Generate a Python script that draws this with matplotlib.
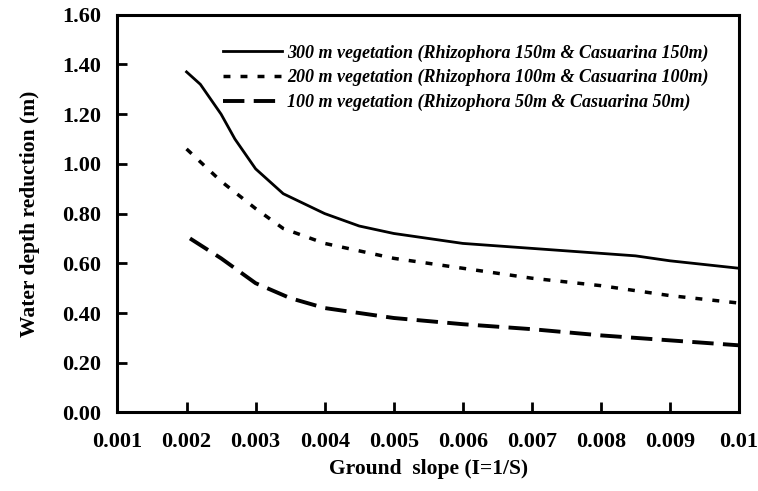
import matplotlib
matplotlib.use('Agg')
import matplotlib.pyplot as plt

plt.rcParams['font.family'] = ['Liberation Serif', 'DejaVu Serif']
plt.rcParams['font.weight'] = 'bold'

slope_300 = [0.002, 0.0022, 0.0025, 0.0027, 0.003, 0.0034, 0.004, 0.0045, 0.005, 0.0055,
             0.006, 0.007, 0.008, 0.0085, 0.009, 0.01]
depth_300 = [1.37, 1.32, 1.20, 1.10, 0.98, 0.88, 0.80, 0.75, 0.72, 0.70,
             0.68, 0.66, 0.64, 0.63, 0.61, 0.58]

slope_200 = [0.002, 0.0025, 0.003, 0.0034, 0.004, 0.005, 0.006, 0.007, 0.008, 0.009, 0.01]
depth_200 = [1.06, 0.93, 0.82, 0.74, 0.68, 0.62, 0.58, 0.54, 0.51, 0.47, 0.44]

slope_100 = [0.00205, 0.0025, 0.003, 0.0035, 0.004, 0.0045, 0.005, 0.006, 0.007, 0.008, 0.009, 0.01]
depth_100 = [0.70, 0.62, 0.52, 0.46, 0.42, 0.40, 0.38, 0.355, 0.335, 0.31, 0.29, 0.27]

labels = ['300 m vegetation (Rhizophora 150m & Casuarina 150m)',
          '200 m vegetation (Rhizophora 100m & Casuarina 100m)',
          '100 m vegetation (Rhizophora 50m & Casuarina 50m)']

x_ticks = [0.001, 0.002, 0.003, 0.004, 0.005, 0.006, 0.007, 0.008, 0.009, 0.01]
x_tick_labels = ['0.001', '0.002', '0.003', '0.004', '0.005', '0.006', '0.007', '0.008', '0.009', '0.01']
y_ticks = [0.0, 0.2, 0.4, 0.6, 0.8, 1.0, 1.2, 1.4, 1.6]

fig, ax = plt.subplots(figsize=(7.58, 4.91), dpi=100)
fig.subplots_adjust(left=0.155, right=0.975, top=0.97, bottom=0.16)

ax.plot(slope_300, depth_300, color='black', lw=2, ls='-', label=labels[0])
ax.plot(slope_200, depth_200, color='black', lw=2.5, ls=(0, (2.0, 2.9)), label=labels[1])
ax.plot(slope_100, depth_100, color='black', lw=2.8, ls=(0, (5.5, 2.4)), label=labels[2])

ax.set_xlim(0.001, 0.01)
ax.set_ylim(0, 1.6)
ax.set_xticks(x_ticks)
ax.set_xticklabels(x_tick_labels)
ax.set_yticks(y_ticks)
ax.set_yticklabels([f'{v:.2f}' for v in y_ticks])
ax.tick_params(direction='in', length=7, width=2, labelsize=16)
ax.tick_params(axis='x', pad=14)
ax.tick_params(axis='y', pad=12)
for s in ax.spines.values():
    s.set_linewidth(2.2)

ax.set_xlabel('Ground  slope (I=1/S)', fontsize=15.5, fontweight='bold', labelpad=5)
ax.set_ylabel('Water depth reduction (m)', fontsize=15.5, fontweight='bold', labelpad=16)

leg = ax.legend(loc='upper left', frameon=False, handlelength=3.3, handletextpad=0.28,
                labelspacing=0.4, borderpad=0, borderaxespad=0,
                bbox_to_anchor=(0.169, 0.925),
                prop={'family': 'Liberation Serif', 'style': 'italic', 'weight': 'bold', 'size': 13})

fig.savefig('out.png', dpi=100)
